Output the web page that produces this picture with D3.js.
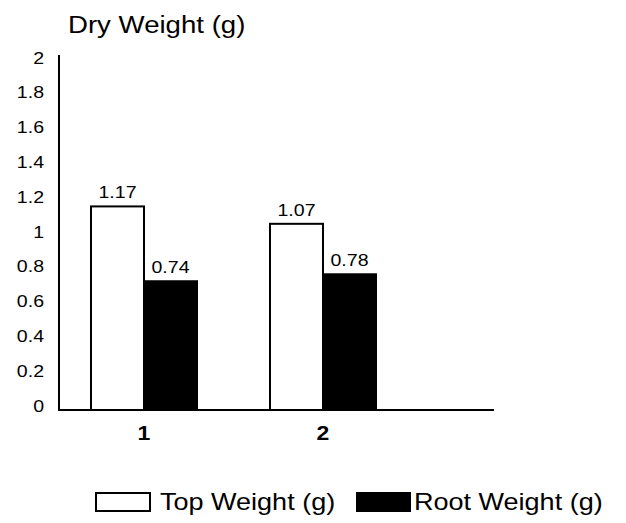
<!DOCTYPE html>
<html>
<head>
<meta charset="utf-8">
<script src="https://cdn.jsdelivr.net/npm/d3@7"></script>
<style>
  html, body { margin: 0; padding: 0; background: #fff; }
  svg { display: block; font-family: "Liberation Sans", Arial, sans-serif; }
</style>
</head>
<body>
<svg id="chart" width="626" height="523"></svg>
<script>
// Dry weight per treatment, top vs root
const categories = ["1", "2"];
const seriesNames = ["Top Weight (g)", "Root Weight (g)"];
const topWeight = [1.17, 1.07];
const rootWeight = [0.74, 0.78];
const yTicks = [0, 0.2, 0.4, 0.6, 0.8, 1, 1.2, 1.4, 1.6, 1.8, 2];
const seriesFill = ["#ffffff", "#000000"];

// text in this chart is set slightly wide
const SX = 1.15;

const svg = d3.select("#chart");

const y = d3.scaleLinear().domain([0, 2]).range([410, 62]);
const x0 = d3.scaleBand().domain(categories).range([54.5, 412.5]).padding(0);
const x1 = d3.scaleBand().domain(seriesNames).range([-53, 53]).padding(0);

const rows = categories.map((c, i) => ({
  cat: c,
  vals: [
    { s: seriesNames[0], v: topWeight[i], fill: seriesFill[0] },
    { s: seriesNames[1], v: rootWeight[i], fill: seriesFill[1] }
  ]
}));

function wideText(sel, x, y) {
  return sel.attr("x", 0).attr("y", 0)
    .attr("transform", (d, i) => `translate(${typeof x === "function" ? x(d, i) : x},${typeof y === "function" ? y(d, i) : y}) scale(${SX},1)`);
}

// bars
const groups = svg.append("g").selectAll("g.grp").data(rows).join("g")
  .attr("class", "grp")
  .attr("transform", d => `translate(${x0(d.cat) + x0.bandwidth() / 2},0)`);

groups.selectAll("rect").data(d => d.vals).join("rect")
  .attr("x", d => x1(d.s))
  .attr("width", x1.bandwidth())
  .attr("y", d => y(d.v))
  .attr("height", d => y(0) - y(d.v))
  .attr("fill", d => d.fill)
  .attr("stroke", "#000")
  .attr("stroke-width", 2);

wideText(groups.selectAll("text.val").data(d => d.vals).join("text").attr("class", "val"),
    d => x1(d.s) + x1.bandwidth() / 2, d => y(d.v) - 8)
  .attr("text-anchor", "middle")
  .attr("font-size", 17)
  .text(d => d.v.toFixed(2));

// y axis
const yAxis = d3.axisLeft(y).tickValues(yTicks).tickSize(0).tickPadding(0)
  .tickFormat(d => d3.format("~g")(d));
const ya = svg.append("g").attr("transform", "translate(59,0)").call(yAxis);
ya.select(".domain").remove();
ya.selectAll(".tick text")
  .attr("x", null).attr("dy", null)
  .attr("transform", `translate(-15,1) scale(${SX},1)`)
  .attr("font-size", 17).attr("fill", "#000")
  .attr("font-family", "Liberation Sans, Arial, sans-serif");
svg.append("line").attr("x1", 59).attr("x2", 59).attr("y1", 55).attr("y2", 411)
  .attr("stroke", "#000").attr("stroke-width", 2);

// x axis
svg.append("line").attr("x1", 58).attr("x2", 494).attr("y1", y(0)).attr("y2", y(0))
  .attr("stroke", "#000").attr("stroke-width", 2);
wideText(svg.append("g").selectAll("text").data(categories).join("text"),
    d => x0(d) + x0.bandwidth() / 2, 440)
  .attr("text-anchor", "middle")
  .attr("font-size", 20)
  .attr("font-weight", "bold")
  .text(d => d);

// title
wideText(svg.append("text"), 68, 33).attr("font-size", 24).text("Dry Weight (g)");

// legend
const legend = [
  { name: seriesNames[0], fill: seriesFill[0], x: 96, w: 54, tx: 160 },
  { name: seriesNames[1], fill: seriesFill[1], x: 357, w: 53, tx: 414 }
];
const lg = svg.append("g").selectAll("g").data(legend).join("g");
lg.append("rect").attr("x", d => d.x).attr("y", 493).attr("width", d => d.w).attr("height", 18)
  .attr("fill", d => d.fill).attr("stroke", "#000").attr("stroke-width", 2);
wideText(lg.append("text"), d => d.tx, 510).attr("font-size", 23.5).text(d => d.name);
</script>
</body>
</html>
